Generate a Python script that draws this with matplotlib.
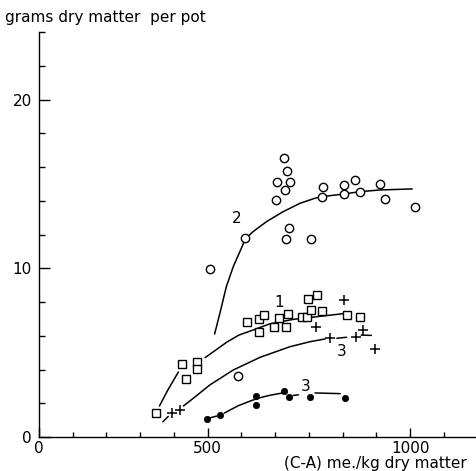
import numpy as np
import matplotlib
matplotlib.use("Agg")
import matplotlib.pyplot as plt
from matplotlib.ticker import FixedLocator, FixedFormatter, NullFormatter

nan = np.nan

# ---- series 2 (open circles) ----
s2_x = [689, 697, 670, 702, 691, 669, 784, 836, 863, 926, 782, 836, 876, 939,
        1011, 700, 694, 755, 593, 505, 574]
s2_y = [16.52, 15.78, 15.09, 15.13, 14.64, 14.04, 14.83, 14.93, 15.25, 14.99,
        14.20, 14.40, 14.54, 14.12, 13.63, 12.40, 11.73, 11.75, 11.78, 9.94, 3.63]
c2_x = [517, 530, 546, 563, 583, 593, 612, 645, 686, 728, 765, 781, 836, 876, 926, 1005]
c2_y = [6.10, 7.33, 8.91, 10.09, 11.18, 11.75, 12.17, 12.76, 13.35, 13.85, 14.15,
        14.24, 14.40, 14.54, 14.64, 14.70]

# ---- series 1 (open squares) ----
s1_x = [347, 423, 436, 469, 468, 597, 626, 626, 639, 663, 677, 693, 698, 734,
        746, 748, 770, 754, 781, 843, 876]
s1_y = [1.44, 4.31, 3.44, 4.46, 4.03, 6.83, 6.20, 7.01, 7.23, 6.52, 7.03, 6.54,
        7.27, 7.09, 7.09, 8.16, 8.43, 7.53, 7.49, 7.23, 7.13]
c1_x = [357, 382, 413, nan, 492, 547, 577, 612, 653, 711, 752, 842]
c1_y = [1.84, 2.79, 3.85, nan, 4.70, 5.62, 6.04, 6.34, 6.70, 6.97, 7.08, 7.33]

# ---- series 3 (plus) ----
s3p_x = [394, 419, 767, 802, 837, 865, 884, 912]
s3p_y = [1.44, 1.62, 6.51, 5.84, 8.11, 5.95, 6.35, 5.20]
c3p_x = [367, 383, nan, 428, 457, 505, 563, 629, 703, 753, 790, nan, 819, 843, nan, 879, 904]
c3p_y = [0.90, 1.22, nan, 1.84, 2.29, 3.08, 3.97, 4.72, 5.35, 5.65, 5.81, nan,
         5.85, 5.91, nan, 6.04, 6.02]

# ---- series 3 (filled dots) ----
s3d_x = [497, 530, 618, 618, 689, 700, 753, 839]
s3d_y = [1.05, 1.30, 2.43, 1.88, 2.74, 2.37, 2.36, 2.33]
c3d_x = [505, 522, nan, 541, 575, 608, 628, 655, 683, nan, 711, 724, nan, 765, 827]
c3d_y = [1.13, 1.24, nan, 1.42, 1.85, 2.16, 2.32, 2.48, 2.60, nan, 2.46, 2.50, nan,
         2.61, 2.57]

# curve labels
lab_text = ["2", "1", "3", "3"]
lab_x = [571, 677, 831, 743]
lab_y = [12.96, 7.96, 5.09, 3.02]

x_major = [0, 500, 1000]
x_major_labels = ["0", "500", "1000"]
y_major = [0, 10, 20]
y_major_labels = ["0", "10", "20"]


def fwd(x):
    x = np.asarray(x, float)
    return np.where(x <= 500, x, 500 + (x - 500) * 1.2)


def inv(t):
    t = np.asarray(t, float)
    return np.where(t <= 500, t, 500 + (t - 500) / 1.2)


plt.rcParams["font.family"] = ["DejaVu Sans"]
fig = plt.figure(figsize=(4.77, 4.71), dpi=100)
ax = fig.add_axes([39 / 477, 34 / 471, 438 / 477, 405 / 471])
ax.set_xscale("function", functions=(fwd, inv))
ax.set_xlim(0, 1165)
ax.set_ylim(0, 24)

lw = 1.1
for cx, cy in [(c2_x, c2_y), (c1_x, c1_y), (c3p_x, c3p_y), (c3d_x, c3d_y)]:
    ax.plot(cx, cy, color="black", lw=lw, zorder=2, solid_capstyle="round",
            solid_joinstyle="round")

ax.plot(s2_x, s2_y, ls="none", marker="o", ms=6.0, mfc="white", mec="black", mew=1.0, zorder=3)
ax.plot(s1_x, s1_y, ls="none", marker="s", ms=5.8, mfc="white", mec="black", mew=1.0, zorder=3)
ax.plot(s3p_x, s3p_y, ls="none", marker="+", ms=7.0, mec="black", mew=1.1, zorder=3)
ax.plot(s3d_x, s3d_y, ls="none", marker="o", ms=4.6, mfc="black", mec="black", mew=0.5, zorder=3)

for t, x, y in zip(lab_text, lab_x, lab_y):
    ax.text(x, y, t, fontsize=11, ha="center", va="center", zorder=4)

for s in ["top", "right"]:
    ax.spines[s].set_visible(False)
for s in ["left", "bottom"]:
    ax.spines[s].set_linewidth(1.0)

x_minor = [100, 200, 300, 400] + [500 + 500 / 6 * k for k in range(1, 6)] + [1000 + 500 / 6]
ax.xaxis.set_major_locator(FixedLocator(x_major))
ax.xaxis.set_major_formatter(FixedFormatter(x_major_labels))
ax.xaxis.set_minor_locator(FixedLocator(x_minor))
ax.xaxis.set_minor_formatter(NullFormatter())

y_minor = [v for v in range(2, 25, 2) if v not in y_major]
ax.yaxis.set_major_locator(FixedLocator(y_major))
ax.yaxis.set_major_formatter(FixedFormatter(y_major_labels))
ax.yaxis.set_minor_locator(FixedLocator(y_minor))
ax.yaxis.set_minor_formatter(NullFormatter())

ax.tick_params(axis="x", which="major", direction="in", length=6.5, width=1.0,
               labelsize=11, pad=3)
ax.tick_params(axis="x", which="minor", direction="in", length=3.6, width=1.0)
ax.tick_params(axis="y", which="major", direction="in", length=8, width=1.0,
               labelsize=11, pad=5)
ax.tick_params(axis="y", which="minor", direction="in", length=4.3, width=1.0)

fig.text(5 / 477, 1 - 22 / 471, "grams dry matter  per pot", fontsize=11,
         ha="left", va="baseline")
fig.text(467 / 477, 3 / 471, "(C-A) me./kg dry matter", fontsize=11,
         ha="right", va="baseline")

fig.savefig("out.png", dpi=100)
